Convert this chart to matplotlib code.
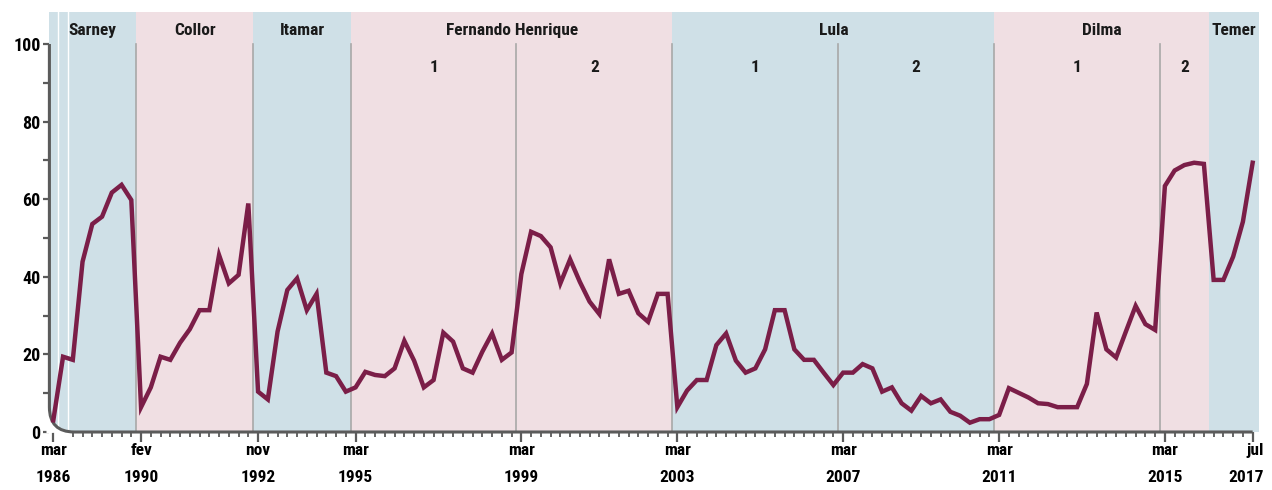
#!/usr/bin/env python3
"""Presidential approval series with term bands, one poll per tick."""

import matplotlib

matplotlib.use("Agg")
import matplotlib.pyplot as plt
import numpy as np
from matplotlib import font_manager
from matplotlib.patches import PathPatch
from matplotlib.path import Path
from matplotlib.transforms import offset_copy


# poll values, one per tick on the x axis
VALUES = [
    3.0, 19.4, 18.6, 43.9, 53.6, 55.5, 61.7, 63.7, 59.8, 6.4,
    11.5, 19.4, 18.6, 23.0, 26.5, 31.4, 31.4, 45.6, 38.3, 40.5,
    58.9, 10.4, 8.4, 25.9, 36.6, 39.6, 31.4, 35.6, 15.3, 14.4,
    10.4, 11.5, 15.5, 14.7, 14.4, 16.4, 23.5, 18.4, 11.5, 13.4,
    25.6, 23.3, 16.4, 15.3, 20.7, 25.4, 18.6, 20.5, 40.7, 51.6,
    50.5, 47.6, 38.3, 44.5, 38.7, 33.6, 30.4, 44.5, 35.6, 36.4,
    30.6, 28.4, 35.6, 35.6, 6.4, 10.7, 13.4, 13.4, 22.4, 25.4,
    18.4, 15.3, 16.4, 21.3, 31.4, 31.4, 21.3, 18.6, 18.6, 15.3,
    12.1, 15.3, 15.3, 17.5, 16.4, 10.4, 11.5, 7.4, 5.5, 9.3,
    7.4, 8.4, 5.2, 4.2, 2.4, 3.3, 3.3, 4.4, 11.3, 10.1,
    8.9, 7.4, 7.2, 6.4, 6.4, 6.4, 12.4, 30.8, 21.3, 19.2,
    25.9, 32.5, 27.8, 26.3, 63.4, 67.4, 68.8, 69.4, 69.1, 39.2,
    39.2, 45.2, 54.2, 69.4,
]

DATE_TICKS = [0, 9, 21, 31, 48, 64, 81, 97, 114, 123]
DATE_LABELS = [
    "mar\n1986", "fev\n1990", "nov\n1992", "mar\n1995", "mar\n1999",
    "mar\n2003", "mar\n2007", "mar\n2011", "mar\n2015", "jul\n2017",
]

PRESIDENTS = ["Sarney", "Collor", "Itamar", "Fernando Henrique", "Lula", "Dilma", "Temer"]
PRESIDENT_BOUNDS = [-0.5, 8.5, 20.5, 30.5, 63.5, 96.5, 118.5, 124.0]
TERM_SPLITS = [47.5, 80.5, 113.5]  # FHC, Lula, Dilma second terms
DIVIDERS = [8.5, 20.5, 30.5, 47.5, 63.5, 80.5, 96.5, 113.5]
EARLY_MARKS = [0.5, 1.5]

BLUE = "#cfe0e7"
PINK = "#f0dfe3"
LINE = "#7b1e48"
AXIS = "#5b5b5b"
TEXT = "#1a1a1a"


def pick_font():
    names = {f.name for f in font_manager.fontManager.ttflist}
    for cand in ["Liberation Sans Narrow", "DejaVu Sans Condensed", "Roboto Condensed", "Roboto"]:
        if cand in names:
            return cand
    return "DejaVu Sans"


FONT = pick_font()
plt.rcParams["font.family"] = [FONT, "DejaVu Sans"]
plt.rcParams["font.weight"] = "bold"

XMIN, XMAX = -0.40, 123.6
YMIN, YMAX = 0, 108.25
LEFT_PX, RIGHT_PX = 49.4, 1258.5

fig = plt.figure(figsize=(12.72, 4.9), dpi=100)
ax = fig.add_axes([LEFT_PX / 1272, 58 / 490, (RIGHT_PX - LEFT_PX) / 1272, 420 / 490])
ax.set_xlim(XMIN, XMAX)
ax.set_ylim(YMIN, YMAX)
for side in ax.spines.values():
    side.set_visible(False)

# president bands
for i, name in enumerate(PRESIDENTS):
    color = BLUE if i % 2 == 0 else PINK
    ax.axvspan(PRESIDENT_BOUNDS[i], PRESIDENT_BOUNDS[i + 1], color=color, lw=0, zorder=0)
    mid = (max(PRESIDENT_BOUNDS[i], XMIN) + min(PRESIDENT_BOUNDS[i + 1], XMAX)) / 2
    ax.text(mid, 103.6, name, ha="center", va="center", fontsize=12.5, color=TEXT)

for xm in EARLY_MARKS:
    ax.axvline(xm, color="white", lw=1.0, zorder=1)

for xd in DIVIDERS:
    ax.plot([xd, xd], [0, 100], color="#a8a8a8", lw=1.2, zorder=1)

# term numbers
term_edges = [(30.5, 47.5, 63.5), (63.5, 80.5, 96.5), (96.5, 113.5, 118.5)]
for start, split, end in term_edges:
    ax.text((start + split) / 2, 94, "1", ha="center", va="center", fontsize=12.5, color=TEXT)
    ax.text((split + end) / 2, 94, "2", ha="center", va="center", fontsize=12.5, color=TEXT)

# rounded corner of the axes
rx, ry = 2.55, 6.4
corner = Path(
    [(XMIN, ry), (XMIN, 0), (XMIN + rx, 0), (XMIN - 0.3, -0.3), (XMIN - 0.3, ry), (XMIN, ry)],
    [Path.MOVETO, Path.CURVE3, Path.CURVE3, Path.LINETO, Path.LINETO, Path.CLOSEPOLY],
)
ax.add_patch(PathPatch(corner, facecolor="white", edgecolor="none", zorder=2, clip_on=False))

axis_path = Path(
    [(XMIN, 100), (XMIN, ry), (XMIN, 0), (XMIN + rx, 0), (DATE_TICKS[-1], 0)],
    [Path.MOVETO, Path.LINETO, Path.CURVE3, Path.CURVE3, Path.LINETO],
)
ax.add_patch(PathPatch(axis_path, facecolor="none", edgecolor=AXIS, lw=2.2, zorder=4,
                       clip_on=False, capstyle="butt"))

x = np.arange(len(VALUES))
ax.plot(x, VALUES, color=LINE, lw=3.2, zorder=5, solid_joinstyle="miter", clip_on=False)

# y axis ticks
ax.set_yticks([0, 20, 40, 60, 80, 100])
ax.set_yticks([10, 30, 50, 70, 90], minor=True)
ax.tick_params(axis="y", which="both", direction="out", length=4.3, width=1.6, color=AXIS,
               labelsize=13, pad=2)

# x axis ticks; the last label is placed by hand so it stays inside the figure
ax.set_xticks(DATE_TICKS, labels=DATE_LABELS[:-1] + [""])
minor = [i for i in range(2, len(VALUES)) if i not in DATE_TICKS]
ax.set_xticks(minor, minor=True)
ax.tick_params(axis="x", which="major", direction="out", length=7.2, width=1.6, color=AXIS,
               labelsize=12.5, pad=1)
ax.tick_params(axis="x", which="minor", direction="out", length=3.6, width=1.3, color=AXIS)
for lab in ax.get_xticklabels():
    lab.set_linespacing(2.0)
for lab in ax.get_xticklabels() + ax.get_yticklabels():
    lab.set_fontweight("bold")

last_trans = offset_copy(ax.get_xaxis_transform(), fig=fig, x=8, y=-8.2, units="points")
ax.text(DATE_TICKS[-1], 0, DATE_LABELS[-1], transform=last_trans, ha="right", va="top",
        multialignment="right", fontsize=12.5, fontweight="bold", linespacing=2.0, color="black")

fig.savefig("out.png", dpi=100)
